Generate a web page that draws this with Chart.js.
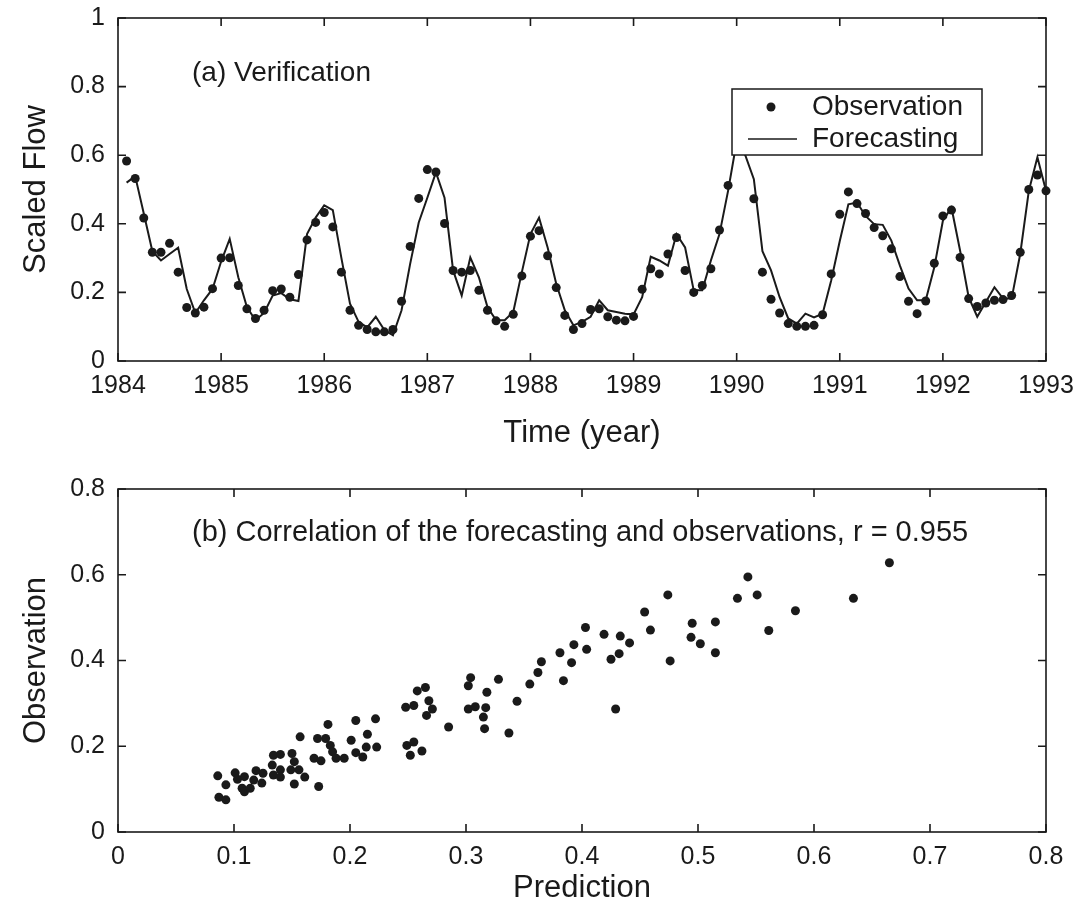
<!DOCTYPE html>
<html>
<head>
<meta charset="utf-8">
<script src="https://cdn.jsdelivr.net/npm/chart.js@4/dist/chart.umd.min.js"></script>
<style>
  html, body { margin: 0; padding: 0; background: #fff; }
  #wrap { width: 1078px; height: 908px; position: relative; }
  .box { position: absolute; left: 0; width: 1078px; }
  #topBox { top: 0; height: 460px; }
  #bottomBox { top: 460px; height: 448px; }
</style>
</head>
<body>
<div id="wrap">
  <div class="box" id="topBox"><canvas id="chartFlow"></canvas></div>
  <div class="box" id="bottomBox"><canvas id="chartCorr"></canvas></div>
</div>
<script>
// monthly values, Feb 1984 .. Jan 1993 (one point per month)
const startYear = 1984;
const obsFlow = [
  0.583, 0.532, 0.417, 0.317, 0.317, 0.343, 0.259, 0.156, 0.140, 0.157, 0.211, 0.300,
  0.301, 0.220, 0.152, 0.124, 0.148, 0.205, 0.210, 0.186, 0.252, 0.353, 0.404, 0.433,
  0.391, 0.259, 0.148, 0.104, 0.092, 0.085, 0.085, 0.092, 0.174, 0.334, 0.474, 0.558,
  0.551, 0.401, 0.264, 0.259, 0.264, 0.206, 0.148, 0.117, 0.101, 0.136, 0.248, 0.364,
  0.380, 0.307, 0.214, 0.133, 0.092, 0.109, 0.150, 0.152, 0.129, 0.119, 0.117, 0.130,
  0.209, 0.269, 0.254, 0.312, 0.360, 0.264, 0.200, 0.220, 0.269, 0.382, 0.512, 0.620,
  0.640, 0.473, 0.259, 0.180, 0.140, 0.109, 0.101, 0.101, 0.104, 0.135, 0.254, 0.428,
  0.493, 0.459, 0.430, 0.389, 0.365, 0.327, 0.246, 0.174, 0.138, 0.175, 0.285, 0.423,
  0.440, 0.302, 0.182, 0.159, 0.169, 0.177, 0.179, 0.191, 0.317, 0.500, 0.542, 0.496
];
const forecastFlow = [
  0.520, 0.539, 0.430, 0.320, 0.293, 0.312, 0.330, 0.210, 0.140, 0.177, 0.210, 0.290,
  0.356, 0.244, 0.157, 0.119, 0.140, 0.191, 0.198, 0.180, 0.175, 0.370, 0.418, 0.454,
  0.440, 0.300, 0.167, 0.114, 0.098, 0.129, 0.090, 0.075, 0.148, 0.283, 0.404, 0.476,
  0.550, 0.476, 0.264, 0.191, 0.302, 0.244, 0.157, 0.119, 0.119, 0.143, 0.259, 0.370,
  0.418, 0.331, 0.225, 0.148, 0.104, 0.114, 0.129, 0.177, 0.148, 0.143, 0.138, 0.136,
  0.186, 0.304, 0.293, 0.278, 0.370, 0.331, 0.206, 0.206, 0.293, 0.370, 0.496, 0.640,
  0.600, 0.530, 0.320, 0.264, 0.186, 0.124, 0.109, 0.138, 0.127, 0.138, 0.235, 0.350,
  0.457, 0.462, 0.423, 0.399, 0.397, 0.351, 0.278, 0.211, 0.177, 0.177, 0.273, 0.409,
  0.447, 0.322, 0.186, 0.129, 0.172, 0.215, 0.182, 0.182, 0.312, 0.496, 0.594, 0.496
];

// correlation panel
const predicted = [
  0.086, 0.087, 0.093, 0.093, 0.101, 0.103, 0.107, 0.109, 0.109, 0.114, 0.117, 0.119,
  0.124, 0.125, 0.133, 0.134, 0.134, 0.140, 0.140, 0.140, 0.150, 0.152, 0.149, 0.152,
  0.157, 0.161, 0.156, 0.169, 0.172, 0.173, 0.181, 0.179, 0.183, 0.185, 0.175, 0.188,
  0.195, 0.205, 0.201, 0.215, 0.222, 0.205, 0.211, 0.214, 0.223, 0.248, 0.255, 0.258,
  0.249, 0.255, 0.252, 0.262, 0.265, 0.268, 0.271, 0.266, 0.285, 0.304, 0.302, 0.318,
  0.328, 0.302, 0.308, 0.317, 0.315, 0.316, 0.337, 0.344, 0.355, 0.362, 0.365, 0.381,
  0.384, 0.391, 0.393, 0.403, 0.404, 0.419, 0.433, 0.441, 0.432, 0.425, 0.429, 0.454,
  0.459, 0.474, 0.476, 0.495, 0.494, 0.502, 0.515, 0.515, 0.534, 0.543, 0.551, 0.561,
  0.584, 0.634, 0.665
];
const observed = [
  0.131, 0.081, 0.075, 0.110, 0.138, 0.123, 0.102, 0.129, 0.094, 0.102, 0.121, 0.143,
  0.114, 0.137, 0.156, 0.133, 0.179, 0.181, 0.145, 0.128, 0.183, 0.164, 0.145, 0.112,
  0.222, 0.128, 0.145, 0.172, 0.218, 0.106, 0.251, 0.218, 0.202, 0.187, 0.166, 0.172,
  0.172, 0.260, 0.214, 0.228, 0.264, 0.185, 0.175, 0.198, 0.198, 0.291, 0.295, 0.329,
  0.202, 0.210, 0.179, 0.189, 0.337, 0.306, 0.287, 0.272, 0.245, 0.360, 0.341, 0.326,
  0.356, 0.287, 0.292, 0.290, 0.268, 0.241, 0.231, 0.305, 0.345, 0.372, 0.397, 0.418,
  0.353, 0.395, 0.437, 0.477, 0.426, 0.461, 0.457, 0.441, 0.416, 0.403, 0.287, 0.513,
  0.471, 0.553, 0.399, 0.487, 0.454, 0.439, 0.490, 0.418, 0.545, 0.595, 0.553, 0.470,
  0.516, 0.545, 0.628
];

const ink = "#1a1a1a";
const fam = "'Liberation Sans', Arial, Helvetica, sans-serif";

const flowPoints = obsFlow.map((v, i) => ({ x: startYear + (i + 1) / 12, y: v }));
const forecastPoints = forecastFlow.map((v, i) => ({ x: startYear + (i + 1) / 12, y: v }));
const corrPoints = predicted.map((p, i) => ({ x: p, y: observed[i] }));

// box frame + inward ticks on all four sides
const frameTicks = {
  id: "frameTicks",
  afterDraw(chart) {
    const { ctx, chartArea: a, scales } = chart;
    const len = 8;
    ctx.save();
    ctx.strokeStyle = ink;
    ctx.lineWidth = 1.6;
    ctx.strokeRect(a.left, a.top, a.width, a.height);
    ctx.beginPath();
    scales.x.ticks.forEach(t => {
      const px = scales.x.getPixelForValue(t.value);
      ctx.moveTo(px, a.bottom); ctx.lineTo(px, a.bottom - len);
      ctx.moveTo(px, a.top); ctx.lineTo(px, a.top + len);
    });
    scales.y.ticks.forEach(t => {
      const py = scales.y.getPixelForValue(t.value);
      ctx.moveTo(a.left, py); ctx.lineTo(a.left + len, py);
      ctx.moveTo(a.right, py); ctx.lineTo(a.right - len, py);
    });
    ctx.stroke();
    ctx.restore();
  }
};

// panel caption inside the plot
const panelNote = {
  id: "panelNote",
  afterDatasetsDraw(chart, args, opts) {
    if (!opts.text) return;
    const { ctx, chartArea: a } = chart;
    ctx.save();
    ctx.fillStyle = ink;
    ctx.font = `${opts.size}px ${fam}`;
    ctx.textBaseline = "middle";
    ctx.fillText(opts.text, a.left + opts.dx, a.top + opts.dy);
    ctx.restore();
  }
};

// boxed legend sitting over the data (top panel)
const boxLegend = {
  id: "boxLegend",
  afterDatasetsDraw(chart, args, opts) {
    if (!opts.show) return;
    const { ctx, chartArea: a } = chart;
    const x0 = a.left + opts.dx, y0 = a.top + opts.dy;
    const w = opts.w, h = opts.h;
    ctx.save();
    ctx.fillStyle = "#fff";
    ctx.fillRect(x0, y0, w, h);
    ctx.strokeStyle = ink;
    ctx.lineWidth = 1.5;
    ctx.strokeRect(x0, y0, w, h);
    const ds = chart.data.datasets;
    ctx.font = `${opts.size}px ${fam}`;
    ctx.textBaseline = "middle";
    ctx.fillStyle = ink;
    // observation row
    ctx.beginPath();
    ctx.arc(x0 + 39, y0 + 18, 4.5, 0, Math.PI * 2);
    ctx.fill();
    ctx.fillText(ds[0].label, x0 + 80, y0 + 18);
    // forecasting row
    ctx.beginPath();
    ctx.moveTo(x0 + 16, y0 + 50);
    ctx.lineTo(x0 + 65, y0 + 50);
    ctx.lineWidth = 1.6;
    ctx.stroke();
    ctx.fillText(ds[1].label, x0 + 80, y0 + 50);
    ctx.restore();
  }
};

function axisX(min, max, step, height, title, titlePad) {
  return {
    type: "linear", min: min, max: max,
    afterFit: s => { s.height = height; s.paddingLeft = 0; s.paddingRight = 0; },
    grid: { display: false, drawTicks: false },
    border: { display: false },
    ticks: {
      stepSize: step, padding: 10, color: ink, maxRotation: 0,
      font: { family: fam, size: 25 },
      callback: v => String(Math.round(v * 10) / 10)
    },
    title: { display: true, text: title, color: ink,
      font: { family: fam, size: 31 }, padding: { top: 0, bottom: titlePad } }
  };
}
function axisY(min, max, step, title) {
  return {
    min: min, max: max,
    afterFit: s => { s.width = 118; s.paddingTop = 0; s.paddingBottom = 0; },
    grid: { display: false, drawTicks: false },
    border: { display: false },
    ticks: {
      stepSize: step, padding: 13, color: ink,
      font: { family: fam, size: 25 },
      callback: v => String(Math.round(v * 10) / 10)
    },
    title: { display: true, text: title, color: ink,
      font: { family: fam, size: 31 }, padding: { top: 18, bottom: 0 } }
  };
}

new Chart(document.getElementById("chartFlow"), {
  type: "scatter",
  data: {
    datasets: [
      {
        label: "Observation",
        data: flowPoints,
        pointRadius: 4.5,
        pointHoverRadius: 4.5,
        backgroundColor: ink,
        borderWidth: 0,
        clip: false
      },
      {
        label: "Forecasting",
        data: forecastPoints,
        showLine: true,
        pointRadius: 0,
        borderColor: ink,
        borderWidth: 2,
        tension: 0
      }
    ]
  },
  options: {
    responsive: true,
    maintainAspectRatio: false,
    animation: false,
    layout: { padding: { left: 0, top: 18, right: 32, bottom: 0 } },
    plugins: {
      legend: { display: false },
      tooltip: { enabled: false },
      panelNote: { text: "(a) Verification", dx: 74, dy: 55, size: 28 },
      boxLegend: { show: true, dx: 614, dy: 71, w: 250, h: 66, size: 28 }
    },
    scales: {
      x: axisX(1984, 1993, 1, 99, "Time (year)", 8),
      y: axisY(0, 1, 0.2, "Scaled Flow")
    }
  },
  plugins: [frameTicks, panelNote, boxLegend]
});

new Chart(document.getElementById("chartCorr"), {
  type: "scatter",
  data: {
    datasets: [
      {
        label: "Observation vs Prediction",
        data: corrPoints,
        pointRadius: 4.5,
        pointHoverRadius: 4.5,
        backgroundColor: ink,
        borderWidth: 0
      }
    ]
  },
  options: {
    responsive: true,
    maintainAspectRatio: false,
    animation: false,
    layout: { padding: { left: 0, top: 29, right: 32, bottom: 0 } },
    plugins: {
      legend: { display: false },
      tooltip: { enabled: false },
      panelNote: { text: "(b) Correlation of the forecasting and observations, r = 0.955", dx: 74, dy: 44, size: 29 }
    },
    scales: {
      x: axisX(0, 0.8, 0.1, 76, "Prediction", 1),
      y: axisY(0, 0.8, 0.2, "Observation")
    }
  },
  plugins: [frameTicks, panelNote]
});
</script>
</body>
</html>
